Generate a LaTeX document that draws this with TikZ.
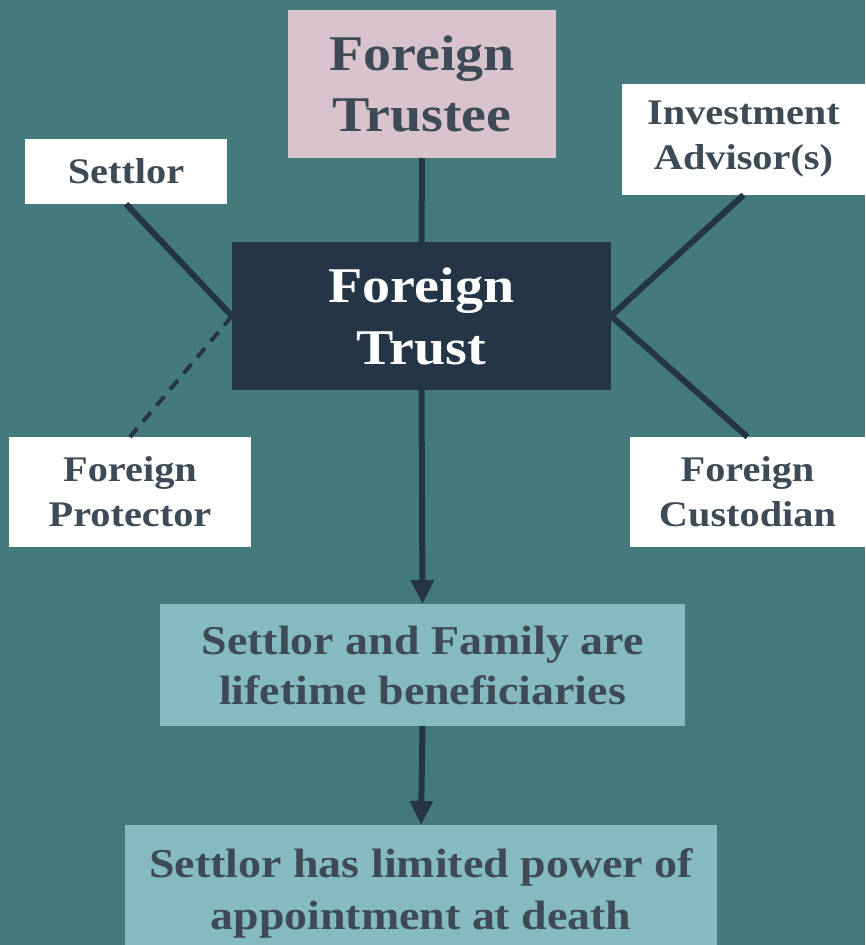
\documentclass[tikz,border=0pt]{standalone}
\usepackage{fontspec}
\setmainfont{Liberation Serif}[FakeStretch=1.12]
\usetikzlibrary{arrows.meta}
\definecolor{bgc}{RGB}{69,122,124}
\definecolor{pinkc}{RGB}{216,195,204}
\definecolor{navyc}{RGB}{36,53,70}
\definecolor{lightc}{RGB}{133,186,192}
\definecolor{txtc}{RGB}{62,75,87}
\tikzset{
  box/.style={inner sep=0pt, outer sep=0pt, align=center, font=\bfseries, text=txtc},
  side/.style={box, fill=white, font=\bfseries\fontsize{36}{45}\selectfont},
  link/.style={draw=navyc, line width=6pt},
  dlink/.style={draw=navyc, line width=4pt, dash pattern=on 12pt off 9pt},
  flow/.style={link, -{Triangle[width=22pt,length=24pt]}},
}
\begin{document}
\begin{tikzpicture}[x=1pt,y=-1pt]
\useasboundingbox (0,0) rectangle (865,945);
\fill[bgc] (0,0) rectangle (865,945);
\node[box, fill=pinkc, minimum width=268pt, minimum height=148pt, font=\bfseries\fontsize{50}{61}\selectfont] (trustee) at (422,84) {Foreign\\Trustee};
\node[side, minimum width=202pt, minimum height=65pt] (settlor) at (126,171.5) {Settlor};
\node[side, minimum width=243pt, minimum height=111pt] (invest) at (743.5,139.5) {Investment\\Advisor(s)};
\node[box, fill=navyc, text=white, minimum width=379pt, minimum height=148pt, font=\bfseries\fontsize{50}{62}\selectfont] (trust) at (421.5,316) {Foreign\\Trust};
\node[side, minimum width=242pt, minimum height=110pt] (protector) at (130,492) {Foreign\\Protector};
\node[side, minimum width=235pt, minimum height=110pt] (custodian) at (747.5,492) {Foreign\\Custodian};
\node[box, fill=lightc, minimum width=525pt, minimum height=122pt, font=\bfseries\fontsize{41}{50}\selectfont] (benef) at (422.5,665) {Settlor and Family are\\lifetime beneficiaries};
\node[box, fill=lightc, minimum width=592pt, minimum height=136pt, font=\bfseries\fontsize{41}{52}\selectfont] (appoint) at (421,893) {Settlor has limited power of\\appointment at death};
\draw[link] (trustee.south) -- (trust.north);
\draw[link] (settlor.south) -- (trust.west);
\draw[dlink] (trust.west) -- (protector.north);
\draw[link] (invest.south) -- (trust.east);
\draw[link] (trust.east) -- (custodian.north);
\draw[flow] (trust.south) -- (benef.north);
\draw[flow] (benef.south) -- (appoint.north);
\end{tikzpicture}
\end{document}
